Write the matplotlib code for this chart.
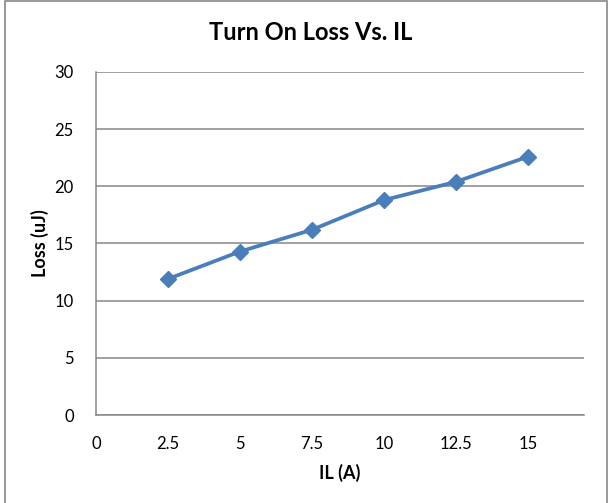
import matplotlib
matplotlib.use("Agg")
import matplotlib.pyplot as plt
from matplotlib.patches import Rectangle

# data
il_amps = [2.5, 5, 7.5, 10, 12.5, 15]
loss_uj = [11.9, 14.3, 16.2, 18.8, 20.4, 22.6]
x_ticks = [0, 2.5, 5, 7.5, 10, 12.5, 15]
x_labels = ["0", "2.5", "5", "7.5", "10", "12.5", "15"]
y_ticks = [0, 5, 10, 15, 20, 25, 30]

plt.rcParams["font.family"] = ["Lato", "DejaVu Sans"]

fig = plt.figure(figsize=(6.11, 5.03), dpi=100)
ax = fig.add_axes([96 / 611, 88 / 503, 488 / 611, 343 / 503])

grid_color = "#868686"
ax.plot(il_amps, loss_uj, color="#4A7EBB", lw=2.7, marker="D", ms=8.5,
        markeredgecolor="#4A7EBB", markerfacecolor="#4A7EBB", zorder=3)

ax.set_xlim(0, 16.94)
ax.set_ylim(0, 30)
ax.set_xticks(x_ticks)
ax.set_xticklabels(x_labels)
ax.set_yticks(y_ticks)
ax.yaxis.grid(True, color=grid_color, lw=1.1)
ax.set_axisbelow(True)
ax.tick_params(length=0, labelsize=12, colors="black")
ax.tick_params(axis="x", pad=15)
ax.tick_params(axis="y", pad=16)

for side in ["top", "right"]:
    ax.spines[side].set_visible(False)
for side in ["left", "bottom"]:
    ax.spines[side].set_color(grid_color)
    ax.spines[side].set_linewidth(1.1)

ax.set_xlabel("IL (A)", fontsize=13, fontweight="bold")
ax.set_ylabel("Loss (uJ)", fontsize=13, fontweight="bold")
ax.xaxis.set_label_coords(0.5, -0.143)
ax.yaxis.set_label_coords(-0.096, 0.5)
fig.text(311 / 611, 1 - 32 / 503, "Turn On Loss Vs. IL", ha="center", va="center",
         fontsize=17, fontweight="bold")

# chart frame
fig.patches.append(Rectangle((5 / 611, -0.01), 602 / 611, 1 - 1 / 503 + 0.01,
                             transform=fig.transFigure, fill=False,
                             edgecolor="#878787", lw=1.2))

fig.savefig("out.png", dpi=100)
